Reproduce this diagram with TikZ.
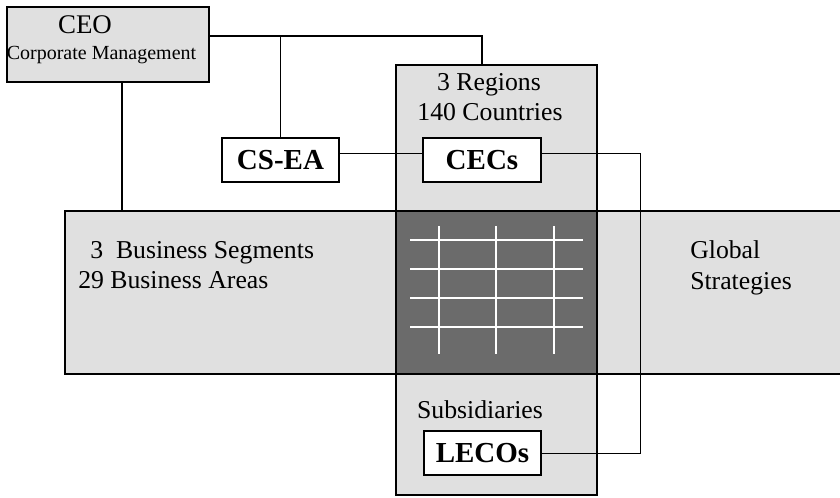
\documentclass[tikz,border=0pt]{standalone}
\usepackage{fontspec}
\setmainfont{Liberation Serif}
\usetikzlibrary{fit}

\tikzset{
    lightbox/.style={draw, line width=1.1pt, fill=black!12, inner sep=0pt},
    darkbox/.style={draw, line width=1.1pt, fill=black!58, inner sep=0pt},
    whitebox/.style={draw, line width=1.1pt, fill=white, inner sep=0pt, minimum height=33pt, font=\fontsize{21.75}{24}\selectfont\bfseries},
    gridline/.style={white, line width=1.3pt},
    link/.style={line width=1pt},
    thinlink/.style={line width=0.7pt},
    txt/.style={anchor=base west, inner sep=0pt, font=\fontsize{19.3}{22}\selectfont}
}

\begin{document}
\begin{tikzpicture}[x=0.75pt,y=0.75pt,yscale=-1,xscale=1]
        \useasboundingbox (0,0) rectangle (840,497);
        % bands
        \node[lightbox, fit={(65,211) (846,374)}] (band) {};
        \node[lightbox, fit={(396,65) (597,495)}] (regions) {};
        \node[darkbox, fit={(396,211) (597,374)}] (matrix) {};
        \foreach \y in {240,269,298,327}
            \draw[gridline] (410,\y) -- (583,\y);
        \foreach \x in {439,496,554}
            \draw[gridline] (\x,226) -- (\x,354);
        % boxes
        \node[lightbox, fit={(7,7) (209,82)}] (ceo) {};
        \node[whitebox, minimum width=87.75pt] (csea) at (280.5,160) {CS-EA};
        \node[whitebox, minimum width=88.5pt] (cecs) at (482,160) {CECs};
        \node[whitebox, minimum width=87.75pt] (lecos) at (482.5,453) {LECOs};
        % texts
        \node[txt, anchor=base, font=\fontsize{20.2}{22}\selectfont] (ceoname) at (85,33) {CEO};
        \node[txt, anchor=base, font=\fontsize{15}{17}\selectfont] (ceosub) at (101.5,59) {Corporate Management};
        \node[txt, anchor=base] (regtxt) at (489,90) {3 Regions};
        \node[txt, anchor=base] (countrytxt) at (490,120) {140 Countries};
        \node[txt, anchor=base] (subtxt) at (480,418) {Subsidiaries};
        \node[txt] (segtxt) at (90,258) {3\hspace{0.5em}Business Segments};
        \node[txt] (areatxt) at (78,288) {29 Business Areas};
        \node[txt] (globtxt) at (690,258) {Global};
        \node[txt] (strattxt) at (690,289) {Strategies};
        % connectors
        \coordinate (top) at (482,36);
        \coordinate (drop) at (122,0);
        \coordinate (cross) at (0,153);
        \coordinate (bend) at (640,153);
        \draw[link] (ceo.east |- top) -- (top) -- (top |- regions.north);
        \draw[link] (csea.north |- top) -- (csea.north);
        \draw[link] (drop |- ceo.south) -- (drop |- band.north);
        \draw[thinlink] (csea.east |- cross) -- (cecs.west |- cross);
        \draw[thinlink] (cecs.east |- bend) -- (bend) |- (lecos.east);
    \end{tikzpicture}
\end{document}
